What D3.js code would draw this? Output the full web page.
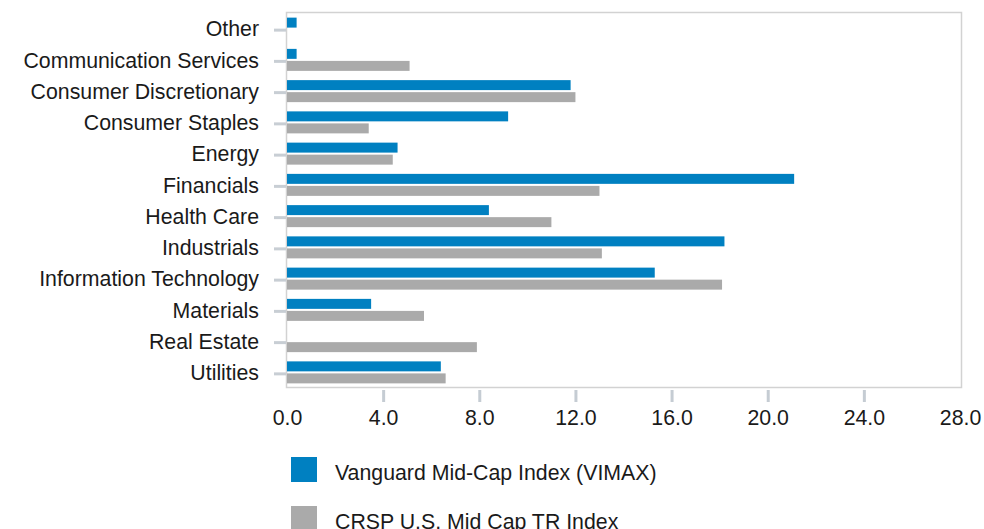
<!DOCTYPE html>
<html>
<head>
<meta charset="utf-8">
<script src="https://cdn.jsdelivr.net/npm/d3@7"></script>
<style>
  html, body { margin: 0; padding: 0; background: #ffffff; }
  svg { display: block; }
  text { font-family: "Liberation Sans", Arial, sans-serif; fill: #1a1a1a; }
</style>
</head>
<body>
<svg id="chart" width="984" height="529"></svg>
<script>
// Sector weights (%) for the fund and its benchmark
const sectors = [
  "Other",
  "Communication Services",
  "Consumer Discretionary",
  "Consumer Staples",
  "Energy",
  "Financials",
  "Health Care",
  "Industrials",
  "Information Technology",
  "Materials",
  "Real Estate",
  "Utilities"
];
const fundWeights  = [0.4, 0.4, 11.8, 9.2, 4.6, 21.1, 8.4, 18.2, 15.3, 3.5, 0.0, 6.4];
const indexWeights = [0.0, 5.1, 12.0, 3.4, 4.4, 13.0, 11.0, 13.1, 18.1, 5.7, 7.9, 6.6];
const seriesNames  = ["Vanguard Mid-Cap Index (VIMAX)", "CRSP U.S. Mid Cap TR Index"];
const seriesColors = ["#0080c1", "#aaaaaa"];
const xTicks = [0, 4, 8, 12, 16, 20, 24, 28];

const fontSize = 21.3;
const svg = d3.select("#chart");
const plot = { left: 287, right: 960, top: 13, bottom: 388 };

const x = d3.scaleLinear().domain([0, 28]).range([plot.left, plot.right]);
const y = d3.scaleBand().domain(sectors).range([plot.top, plot.bottom]);
const sub = d3.scaleBand().domain([0, 1]).range([0, 22]).paddingInner(0.17);

// plot frame
svg.append("rect")
  .attr("x", plot.left - 0.5)
  .attr("y", plot.top - 0.5)
  .attr("width", plot.right - plot.left + 2)
  .attr("height", plot.bottom - plot.top)
  .attr("fill", "none")
  .attr("stroke", "#d2d2d2")
  .attr("stroke-width", 1.5);

// bars: fund on top, benchmark below, per sector
const rows = sectors.map((s, i) => ({ sector: s, values: [fundWeights[i], indexWeights[i]] }));
const groups = svg.append("g").selectAll("g")
  .data(rows)
  .join("g")
  .attr("transform", d => `translate(0,${y(d.sector) + y.bandwidth() / 2 - 11})`);
groups.selectAll("rect")
  .data(d => d.values.map((v, k) => ({ v, k })))
  .join("rect")
  .attr("x", x(0))
  .attr("y", d => sub(d.k))
  .attr("width", d => x(d.v) - x(0))
  .attr("height", sub.bandwidth())
  .attr("fill", d => seriesColors[d.k]);

// category axis
const yAxis = svg.append("g")
  .attr("transform", `translate(${plot.left - 1},0)`)
  .call(d3.axisLeft(y).tickSize(12).tickPadding(15));
yAxis.select(".domain").remove();
yAxis.selectAll(".tick line").attr("stroke", "#c8ced4").attr("stroke-width", 3)
  .attr("transform", "translate(0,1.5)");
yAxis.selectAll(".tick text").attr("font-size", fontSize).attr("fill", "#1a1a1a")
  .attr("dy", "0.36em");

// value axis
const xAxis = svg.append("g")
  .attr("transform", `translate(0,${plot.bottom + 2})`)
  .call(d3.axisBottom(x).tickValues(xTicks).tickFormat(d3.format(".1f")).tickSize(12).tickPadding(8));
xAxis.select(".domain").remove();
xAxis.selectAll(".tick line")
  .attr("stroke", "#c5ccd3").attr("stroke-width", 3)
  .attr("opacity", d => (d === 0 || d === 28) ? 0 : 1);
xAxis.selectAll(".tick text").attr("font-size", fontSize).attr("fill", "#1a1a1a");

// legend
const legend = svg.append("g").selectAll("g")
  .data(seriesNames)
  .join("g")
  .attr("transform", (d, i) => `translate(291,${457 + i * 49})`);
legend.append("rect")
  .attr("width", 26).attr("height", 25)
  .attr("fill", (d, i) => seriesColors[i]);
legend.append("text")
  .attr("x", 44).attr("y", 23)
  .attr("font-size", fontSize)
  .text(d => d);
</script>
</body>
</html>
